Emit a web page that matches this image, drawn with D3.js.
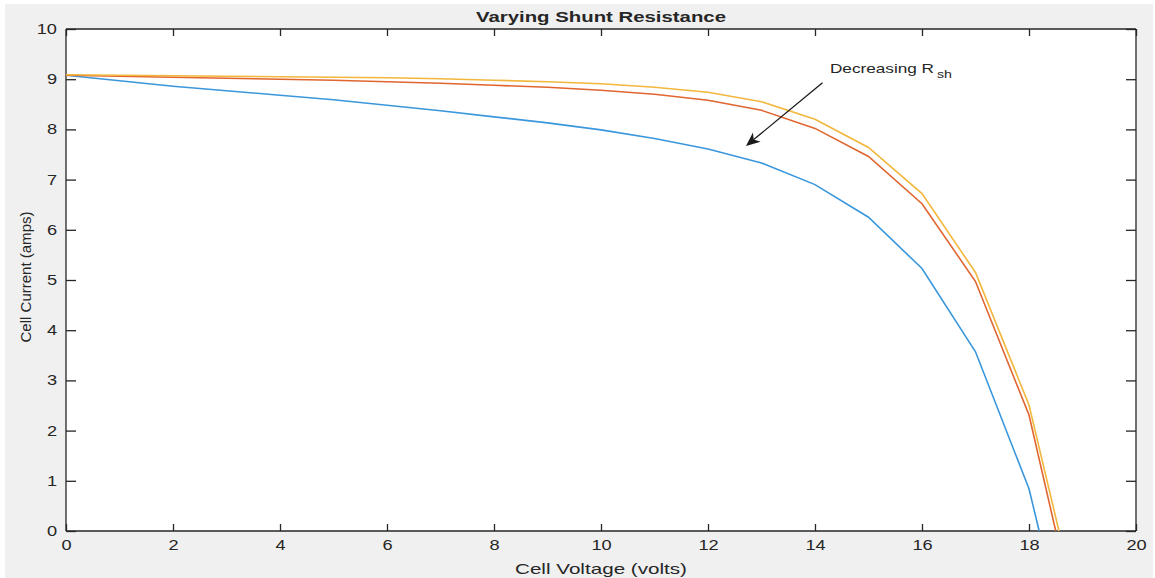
<!DOCTYPE html>
<html><head><meta charset="utf-8">
<script src="https://cdn.jsdelivr.net/npm/d3@7"></script>
<style>
html,body{margin:0;padding:0;background:#fff;}
text{font-family:Arial,"Liberation Sans",Helvetica,sans-serif;fill:#262626;}
</style></head>
<body>
<svg id="chart" width="1155" height="578"></svg>
<script>
// ---- data ----
const volts = [0,1,2,3,4,5,6,7,8,9,10,11,12,13,14,15,16,17,18];
const currentHighRsh = [9.09,9.08,9.07,9.06,9.05,9.04,9.03,9.01,8.98,8.95,8.91,8.84,8.74,8.55,8.20,7.64,6.72,5.15,2.51];
const currentMidRsh  = [9.08,9.06,9.04,9.02,9.00,8.98,8.95,8.92,8.88,8.84,8.78,8.70,8.58,8.38,8.02,7.46,6.52,4.97,2.31];
const currentLowRsh  = [9.08,8.97,8.86,8.77,8.68,8.59,8.48,8.37,8.25,8.13,7.99,7.82,7.61,7.33,6.90,6.25,5.23,3.57,0.84];
const openCircuitV = {low:18.19, mid:18.50, high:18.56};
const xTicks = [0,2,4,6,8,10,12,14,16,18,20];
const yTicks = [0,1,2,3,4,5,6,7,8,9,10];
const titleText = "Varying Shunt Resistance";
const xLabel = "Cell Voltage (volts)";
const yLabel = "Cell Current (amps)";
const arrowTail = [14.14, 8.93];
const arrowTip = [12.71, 7.67];
const annotPos = [14.28, 9.13];

// ---- layout ----
const svg = d3.select("#chart");
const L = 66, R = 1136, T = 29, B = 531;
svg.append("rect").attr("x",5).attr("y",4).attr("width",1148).attr("height",574).attr("fill","#f0f0f0");
svg.append("rect").attr("x",L).attr("y",T).attr("width",R-L).attr("height",B-T).attr("fill","#fff");

const x = d3.scaleLinear().domain([0,20]).range([L,R]);
const y = d3.scaleLinear().domain([0,10]).range([B,T]);

function stretch(sel, k){
  sel.each(function(){
    const w = this.getComputedTextLength();
    d3.select(this).attr("textLength", w*k).attr("lengthAdjust","spacingAndGlyphs");
  });
}

// axes
const axColor = "#262626";
const gx = svg.append("g").attr("transform",`translate(0,${B})`)
  .call(d3.axisBottom(x).tickValues(xTicks).tickSize(-7).tickPadding(9).tickFormat(d3.format("d")));
const gy = svg.append("g").attr("transform",`translate(${L},0)`)
  .call(d3.axisLeft(y).tickValues(yTicks).tickSize(-10).tickPadding(9).tickFormat(d3.format("d")));
const gxt = svg.append("g").attr("transform",`translate(0,${T})`)
  .call(d3.axisTop(x).tickValues(xTicks).tickSize(-7).tickFormat(""));
const gyr = svg.append("g").attr("transform",`translate(${R},0)`)
  .call(d3.axisRight(y).tickValues(yTicks).tickSize(-10).tickFormat(""));
[gx,gy,gxt,gyr].forEach(g=>{
  g.select(".domain").attr("stroke",axColor).attr("stroke-width",1.3);
  g.selectAll(".tick line").attr("stroke",axColor).attr("stroke-width",1.3);
  g.selectAll(".tick text").attr("font-size",14).attr("font-family","Arial, 'Liberation Sans', sans-serif").attr("fill","#333");
});
[gx,gxt].forEach(g=>g.select(".domain").attr("d",`M${L},0H${R}`));
[gy,gyr].forEach(g=>g.select(".domain").attr("d",`M0,${T}V${B}`));
stretch(gx.selectAll(".tick text"),1.3);
stretch(gy.selectAll(".tick text"),1.3);

// lines
const series = [
  {vals: currentLowRsh, voc: openCircuitV.low, color:"#3a97dc"},
  {vals: currentMidRsh, voc: openCircuitV.mid, color:"#e0652f"},
  {vals: currentHighRsh, voc: openCircuitV.high, color:"#f2b73c"}
];
const line = d3.line().x(d=>x(d[0])).y(d=>y(d[1]));
series.forEach(s=>{
  const pts = volts.map((v,i)=>[v,s.vals[i]]).concat([[s.voc,0]]);
  svg.append("path").attr("d",line(pts)).attr("fill","none").attr("stroke",s.color).attr("stroke-width",1.6);
});

// title and labels
svg.append("text").attr("x",(L+R)/2).attr("y",22).attr("text-anchor","middle")
  .attr("font-size",15).attr("font-weight","bold").attr("fill","#1a1a1a").text(titleText)
  .attr("textLength",250).attr("lengthAdjust","spacingAndGlyphs");
svg.append("text").attr("x",(L+R)/2).attr("y",574).attr("text-anchor","middle")
  .attr("font-size",15).attr("fill","#333").text(xLabel)
  .attr("textLength",172).attr("lengthAdjust","spacingAndGlyphs");
svg.append("text").attr("transform",`translate(31,277) rotate(-90)`).attr("text-anchor","middle")
  .attr("font-size",15).attr("fill","#333").text(yLabel)
  .attr("textLength",131).attr("lengthAdjust","spacingAndGlyphs");

// annotation
const ax0 = x(annotPos[0]), ay0 = y(annotPos[1]);
svg.append("text").attr("x",ax0).attr("y",ay0).attr("font-size",13).attr("fill","#262626")
  .text("Decreasing R").attr("textLength",104).attr("lengthAdjust","spacingAndGlyphs");
svg.append("text").attr("x",ax0+107).attr("y",ay0+5).attr("font-size",10).attr("fill","#262626")
  .text("sh").attr("textLength",15).attr("lengthAdjust","spacingAndGlyphs");

// arrow
const tx = x(arrowTail[0]), ty = y(arrowTail[1]);
const hx = x(arrowTip[0]), hy = y(arrowTip[1]);
const dx = hx-tx, dy = hy-ty, len = Math.hypot(dx,dy);
const ux = dx/len, uy = dy/len, px = -uy, py = ux;
const hl = 14, hw = 6, notch = 10;
svg.append("line").attr("x1",tx).attr("y1",ty).attr("x2",hx-ux*notch).attr("y2",hy-uy*notch)
  .attr("stroke","#1a1a1a").attr("stroke-width",1.3);
const p = [[hx,hy],[hx-ux*hl+px*hw,hy-uy*hl+py*hw],[hx-ux*notch,hy-uy*notch],[hx-ux*hl-px*hw,hy-uy*hl-py*hw]];
svg.append("path").attr("d","M"+p.map(q=>q.join(",")).join("L")+"Z").attr("fill","#1a1a1a");
</script>
</body></html>
